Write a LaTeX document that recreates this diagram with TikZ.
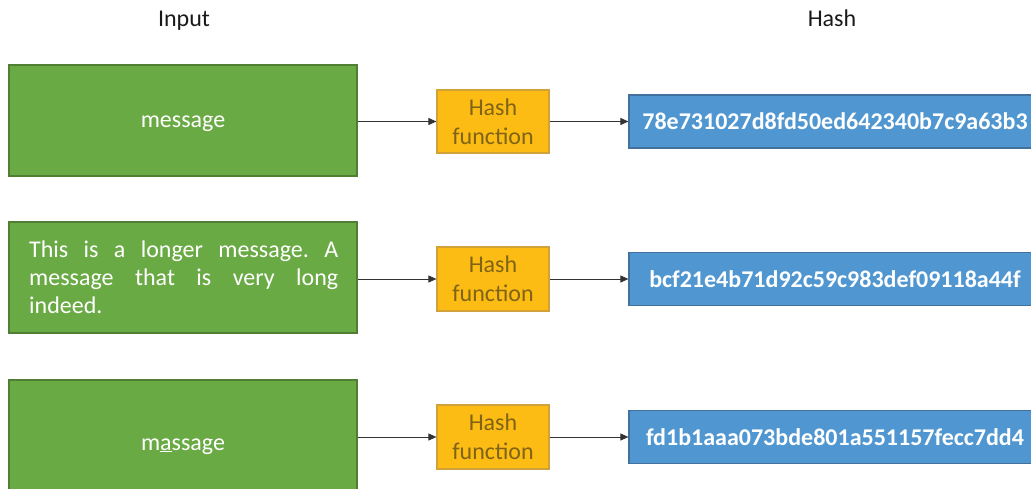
\documentclass[tikz,border=0pt]{standalone}
\usepackage{fontspec}
\setmainfont{Carlito}
\usetikzlibrary{arrows.meta}
\definecolor{ingreen}{HTML}{6AAA44}
\definecolor{ingreenb}{HTML}{507E32}
\definecolor{hashor}{HTML}{FCBC13}
\definecolor{hashorb}{HTML}{D2A23A}
\definecolor{hashtxt}{HTML}{7F6417}
\definecolor{outblue}{HTML}{5097D1}
\definecolor{outblueb}{HTML}{41719C}
\tikzset{
  inbox/.style={draw=ingreenb, fill=ingreen, line width=1.2pt, text=white, inner sep=0pt,
    minimum width=348pt, minimum height=111pt, text height=18pt, text depth=3pt,
    font=\fontsize{24}{28}\selectfont},
  hashbox/.style={draw=hashorb, fill=hashor, line width=1.2pt, text=hashtxt, inner sep=0pt,
    minimum width=112pt, minimum height=63pt, align=center,
    font=\fontsize{24}{29}\selectfont},
  outbox/.style={draw=outblueb, fill=outblue, line width=1.2pt, text=white, inner sep=0pt,
    minimum width=412pt, minimum height=53pt, text height=20pt, text depth=3pt,
    font=\fontsize{24}{28}\selectfont\bfseries},
  headtext/.style={font=\fontsize{24}{28}\selectfont, text=black!90, inner sep=0pt, anchor=base},
  longtext/.style={text=white, inner sep=0pt, anchor=base west, font=\fontsize{24}{28}\selectfont},
  arr/.style={draw=black!80, line width=0.9pt, -{Triangle[length=8pt,width=7pt]}}
}
\begin{document}
\begin{tikzpicture}[x=1pt,y=-1pt]
\useasboundingbox (0,0) rectangle (1031,489);
\clip (0,0) rectangle (1031,489);
\node[headtext] (hin) at (184,26.5) {Input};
\node[headtext] (hout) at (832,26.5) {Hash};
% inputs
\node[inbox] (in1) at (183,120.5) {message};
\node[inbox] (in2) at (183,277.5) {};
\node[longtext] (in2t) at (29,313)
  {\vbox{\hbox to 309pt{This\hfill is\hfill a\hfill longer\hfill message.\hfill A}%
         \hbox to 309pt{message\hfill that\hfill is\hfill very\hfill long}%
         \hbox to 309pt{indeed.\hfil}}};
\node[inbox, minimum height=125pt] (in3) at (183,442.5) {m\underline{a}ssage};
% hash functions
\node[hashbox] (h1) at (493,121.5) {Hash\\function};
\node[hashbox, minimum height=64pt] (h2) at (493,279) {Hash\\function};
\node[hashbox, minimum height=64pt] (h3) at (493,437) {Hash\\function};
% outputs
\node[outbox] (o1) at (835,121.5) {78e731027d8fd50ed642340b7c9a63b3};
\node[outbox] (o2) at (835,279) {bcf21e4b71d92c59c983def09118a44f};
\node[outbox] (o3) at (835,437) {fd1b1aaa073bde801a551157fecc7dd4};
% arrows
\draw[arr] (in1.east |- h1.west) -- (h1.west);
\draw[arr] (in2.east |- h2.west) -- (h2.west);
\draw[arr] (in3.east |- h3.west) -- (h3.west);
\draw[arr] (h1.east) -- (o1.west);
\draw[arr] (h2.east) -- (o2.west);
\draw[arr] (h3.east) -- (o3.west);
\end{tikzpicture}
\end{document}
